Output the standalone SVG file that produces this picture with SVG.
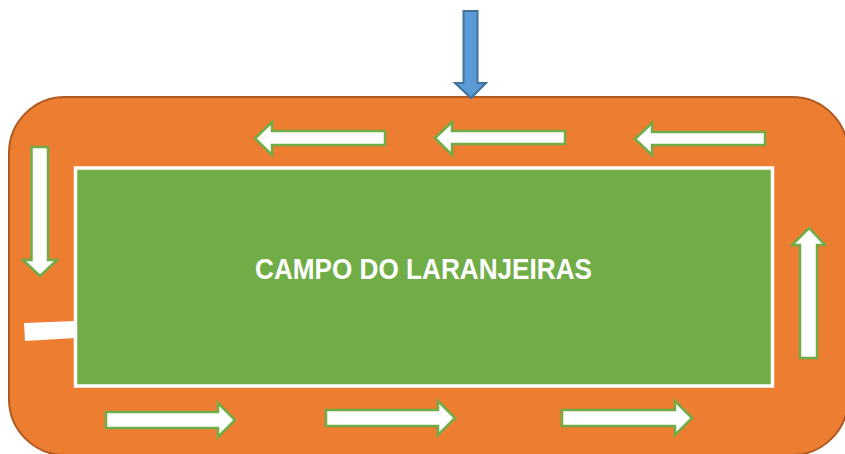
<svg xmlns="http://www.w3.org/2000/svg" width="845" height="454" viewBox="0 0 845 454">
  <style>
    .track { fill: #ed7d31; stroke: #ae5a21; stroke-width: 2; }
    .field { fill: #70ad47; stroke: #ffffff; stroke-width: 3.5; }
    .warrow { fill: #ffffff; stroke: #70ad47; stroke-width: 2.5; stroke-linejoin: miter; }
    .barrow { fill: #5b9bd5; stroke: #41719c; stroke-width: 2; }
    .label { font-family: "Liberation Sans", Arial, sans-serif; font-weight: bold; font-size: 29px; fill: #ffffff; }
  </style>
  <rect x="0" y="0" width="845" height="454" fill="#ffffff"/>
  <g id="track">
    <rect class="track" x="9" y="97" width="839" height="358" rx="56" ry="56"/>
  </g>
  <g id="field">
    <rect class="field" x="75.5" y="168" width="697" height="218"/>
    <text class="label" x="423.5" y="278.5" text-anchor="middle" textLength="337" lengthAdjust="spacingAndGlyphs">CAMPO DO LARANJEIRAS</text>
  </g>
  <g id="entrance">
    <polygon points="24,323 75,321 75,338 25,341" fill="#ffffff"/>
  </g>
  <g id="connectors">
    <polygon id="arrow-in" class="barrow" points="463.5,11 477.5,11 477.5,83 486,83 471,98 455,83 463.5,83"/>
    <polygon id="arrow-top-1" class="warrow" points="255,138.5 272,122 272,131 385,131 385,145 272,145 272,155"/>
    <polygon id="arrow-top-2" class="warrow" points="435,138 452,122 452,131 565,131 565,144 452,144 452,155"/>
    <polygon id="arrow-top-3" class="warrow" points="635,139 652,123 652,132 765,132 765,145 652,145 652,155"/>
    <polygon id="arrow-left" class="warrow" points="31.5,147 48,147 48,260 57,260 40,276 23,260 31.5,260"/>
    <polygon id="arrow-right" class="warrow" points="800,358 817,358 817,245 825,245 809,228 792,245 800,245"/>
    <polygon id="arrow-bottom-1" class="warrow" points="106,412 218,412 218,403 235,420 218,437 218,428 106,428"/>
    <polygon id="arrow-bottom-2" class="warrow" points="326,410 438,410 438,401 455,418 438,435 438,426 326,426"/>
    <polygon id="arrow-bottom-3" class="warrow" points="562,410 675,410 675,401 692,418 675,435 675,426 562,426"/>
  </g>
</svg>
